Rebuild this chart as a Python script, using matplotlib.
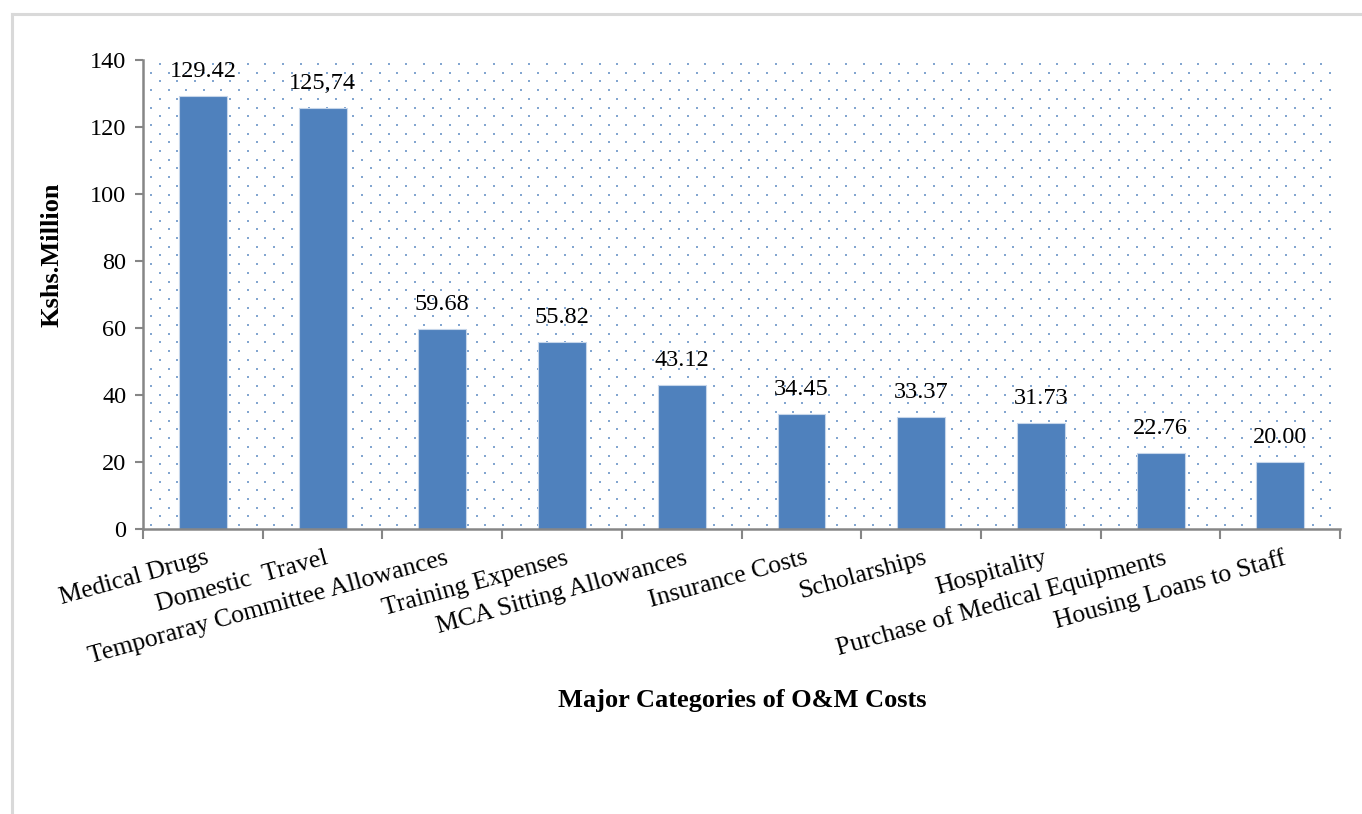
import numpy as np
import matplotlib
matplotlib.use("Agg")
import matplotlib.pyplot as plt
from matplotlib.lines import Line2D

plt.rcParams['font.family'] = ['Liberation Serif', 'DejaVu Serif']

categories = ["Medical Drugs", "Domestic  Travel", "Temporaray Committee Allowances",
              "Training Expenses", "MCA Sitting Allowances", "Insurance Costs",
              "Scholarships", "Hospitality", "Purchase of Medical Equipments",
              "Housing Loans to Staff"]
values = [129.42, 125.74, 59.68, 55.82, 43.12, 34.45, 33.37, 31.73, 22.76, 20.00]
value_labels = ["129.42", "125,74", "59.68", "55.82", "43.12", "34.45", "33.37",
                "31.73", "22.76", "20.00"]

BAR_COLOR = "#4f81bd"
AXIS_GRAY = "#868686"

fig = plt.figure(figsize=(13.62, 8.14), dpi=100)
ax = fig.add_axes([0.105, 0.350, 0.879, 0.576])

# outer chart-area border (top and left edges visible)
fig.add_artist(Line2D([12 / 1362, 1.0], [1 - 14 / 814] * 2, transform=fig.transFigure,
                      color="#d9d9d9", lw=2.2))
fig.add_artist(Line2D([12 / 1362] * 2, [0.0, 1 - 14 / 814], transform=fig.transFigure,
                      color="#d9d9d9", lw=2.2))

# dotted plot-area fill pattern
ax_w, ax_h = 0.879 * 1362, 0.576 * 814
dx, dy = 17.6, 8.7
xs_a = np.arange(8, ax_w - 4, dx)
ys = np.arange(4, ax_h - 2, dy)
for i, yy in enumerate(ys):
    if i % 2 == 0:
        xx = xs_a
        size = 4.5
    else:
        xx = xs_a - dx / 2
        xx = xx[xx > 3]
        size = 2.8
    ax.scatter(xx / ax_w, np.full_like(xx, yy) / ax_h, s=size, marker='s',
               color=BAR_COLOR, alpha=0.7, linewidths=0, transform=ax.transAxes,
               zorder=0.5)

x = np.arange(len(categories))
bars = ax.bar(x, values, width=0.40, color=BAR_COLOR, edgecolor="#c6d6ea",
              linewidth=0.8, zorder=2)
for rect, lab in zip(bars, value_labels):
    ax.annotate(lab, (rect.get_x() + rect.get_width() / 2, rect.get_height()),
                xytext=(0, 10), textcoords="offset points", ha="center", va="bottom",
                fontsize=17.5, zorder=3)

ax.set_xlim(-0.5, len(categories) - 0.5)
ax.set_ylim(0, 140)
ax.set_yticks(np.arange(0, 141, 20))
ax.tick_params(axis='y', labelsize=17.5, direction='out', length=6, width=1.5,
               color=AXIS_GRAY, pad=6)

ax.set_xticks(np.arange(-0.5, len(categories), 1.0))
ax.set_xticklabels([])
ax.tick_params(axis='x', direction='out', length=7, width=1.5, color=AXIS_GRAY)

for i, cat in enumerate(categories):
    ax.annotate(cat, (i + 0.02, 0), xytext=(0, -13), textcoords="offset points",
                xycoords=("data", "axes fraction"), ha="right", va="top",
                rotation=15.5, rotation_mode="anchor", fontsize=18.5)

for side in ("top", "right"):
    ax.spines[side].set_visible(False)
for side in ("left", "bottom"):
    ax.spines[side].set_color(AXIS_GRAY)
    ax.spines[side].set_linewidth(1.8)

ax.set_facecolor("white")
fig.text(0.545, 1 - 700 / 814, "Major Categories of O&M Costs", ha="center", va="center",
         fontsize=19, fontweight="bold")
fig.text(52 / 1362, 1 - 255 / 814, "Kshs.Million", ha="center", va="center",
         rotation=90, fontsize=19, fontweight="bold")

fig.savefig("out.png", dpi=100)
